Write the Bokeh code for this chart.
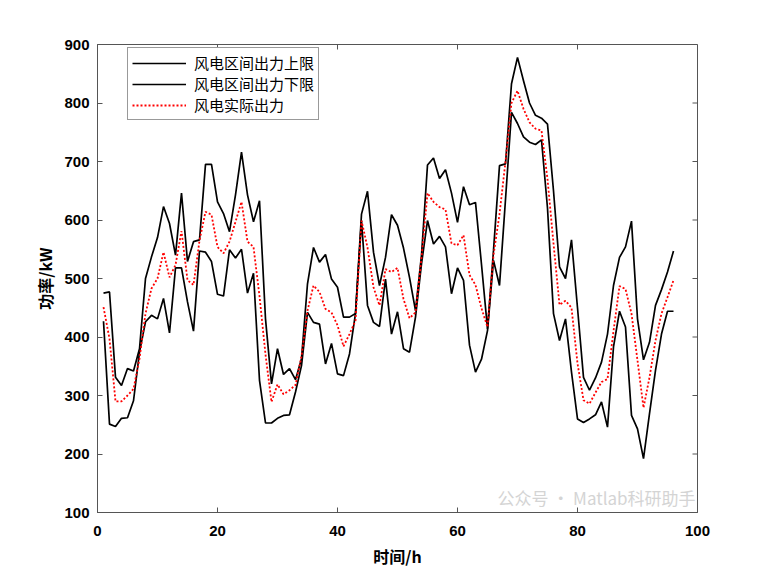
from bokeh.plotting import figure
from bokeh.models import (ColumnDataSource, Range1d, FixedTicker,
                          Legend, LegendItem, Label)
from bokeh.embed import file_html
from bokeh.resources import INLINE

# ---- data ----
hours = list(range(1, 97))

upper = [475, 477, 331, 317, 346, 342, 380, 500, 537, 570,
         623, 594, 540, 646, 529, 563, 566, 695, 695, 631,
         611, 580, 643, 716, 643, 597, 633, 431, 320, 380,
         336, 346, 327, 363, 491, 553, 528, 541, 499, 485,
         434, 434, 440, 610, 649, 545, 488, 536, 609, 591,
         552, 502, 445, 540, 694, 706, 671, 686, 646, 596,
         657, 626, 630, 524, 414, 548, 693, 696, 833, 878,
         838, 800, 779, 774, 764, 650, 520, 500, 566, 450,
         331, 309, 330, 357, 405, 488, 536, 554, 598, 431,
         361, 391, 454, 481, 511, 547]

lower = [427, 251, 247, 261, 262, 291, 374, 426, 437, 431,
         466, 407, 518, 518, 460, 410, 547, 545, 529, 473,
         470, 549, 535, 550, 475, 509, 326, 253, 253, 261,
         266, 267, 306, 351, 442, 425, 422, 354, 389, 337,
         334, 371, 440, 599, 454, 425, 418, 499, 405, 443,
         380, 374, 434, 525, 599, 559, 572, 554, 474, 518,
         497, 386, 340, 362, 411, 531, 488, 635, 784, 765,
         742, 733, 729, 737, 620, 440, 394, 431, 340, 260,
         254, 260, 267, 289, 246, 383, 444, 417, 266, 243,
         192, 269, 343, 405, 444, 444]

actual = [451, 397, 290, 290, 300, 311, 363, 440, 483, 500,
          545, 502, 523, 581, 497, 489, 565, 614, 609, 554,
          543, 563, 597, 631, 563, 554, 470, 370, 289, 319,
          302, 309, 318, 367, 445, 488, 477, 448, 442, 420,
          384, 405, 428, 599, 553, 485, 454, 516, 511, 518,
          465, 432, 442, 535, 646, 631, 622, 618, 560, 557,
          574, 506, 489, 449, 417, 540, 610, 700, 800, 821,
          790, 767, 756, 753, 670, 560, 455, 462, 450, 355,
          292, 286, 305, 323, 328, 410, 487, 482, 440, 360,
          279, 331, 394, 440, 468, 497]

series_names = ["风电区间出力上限", "风电区间出力下限", "风电实际出力"]
x_ticks = [0, 20, 40, 60, 80, 100]
y_ticks = [100, 200, 300, 400, 500, 600, 700, 800, 900]

src = ColumnDataSource(dict(x=hours, up=upper, lo=lower, act=actual))

p = figure(width=760, height=572, output_backend="svg", toolbar_location=None,
           x_range=Range1d(x_ticks[0], x_ticks[-1]),
           y_range=Range1d(y_ticks[0], y_ticks[-1]),
           min_border_left=97, min_border_right=63,
           min_border_top=44, min_border_bottom=60)
p.xgrid.visible = False
p.ygrid.visible = False
axis_col = "#555555"
p.outline_line_color = axis_col
p.outline_line_width = 1
p.background_fill_color = "white"
p.border_fill_color = "white"

tick_font = "Liberation Sans"
cjk_font = "Noto Sans CJK SC"

p.xaxis.ticker = FixedTicker(ticks=x_ticks)
p.yaxis.ticker = FixedTicker(ticks=y_ticks)
for ax in (p.xaxis[0], p.yaxis[0]):
    ax.axis_line_color = axis_col
    ax.axis_line_width = 1
    ax.major_tick_line_color = axis_col
    ax.major_tick_in = 5
    ax.major_tick_out = 0
    ax.minor_tick_line_color = None
    ax.major_label_text_font = tick_font
    ax.major_label_text_font_style = "bold"
    ax.major_label_text_font_size = "15px"
    ax.major_label_text_color = "black"
    ax.axis_label_text_font = cjk_font
    ax.axis_label_text_font_style = "bold"
    ax.axis_label_text_font_size = "16px"
    ax.axis_label_text_color = "black"
p.xaxis.major_label_standoff = 13
p.yaxis.major_label_standoff = 8
p.xaxis.axis_label = "时间/h"
p.yaxis.axis_label = "功率/kW"
p.xaxis.axis_label_standoff = 5
p.yaxis.axis_label_standoff = 4

# inward tick marks on the top and right edges of the box
p.ray(x=x_ticks, y=[y_ticks[-1]] * len(x_ticks), length=5, length_units="screen",
      angle=-90, angle_units="deg", line_color=axis_col, line_width=1)
p.ray(x=[x_ticks[-1]] * len(y_ticks), y=y_ticks, length=5, length_units="screen",
      angle=180, angle_units="deg", line_color=axis_col, line_width=1)

r_up = p.line("x", "up", source=src, line_color="black", line_width=1.7)
r_lo = p.line("x", "lo", source=src, line_color="black", line_width=1.7)
r_act = p.line("x", "act", source=src, line_color="#ff0000", line_width=1.8,
               line_dash="2 2")

legend = Legend(items=[LegendItem(label=series_names[0], renderers=[r_up]),
                       LegendItem(label=series_names[1], renderers=[r_lo]),
                       LegendItem(label=series_names[2], renderers=[r_act])],
                location=(30, 392))
legend.label_text_font = cjk_font
legend.label_text_font_size = "15px"
legend.label_text_color = "black"
legend.glyph_width = 54
legend.glyph_height = 20
legend.label_height = 20
legend.label_standoff = 8
legend.spacing = 0
legend.padding = 4
legend.margin = 0
legend.border_line_color = "#333333"
legend.border_line_width = 1
legend.background_fill_color = "white"
legend.background_fill_alpha = 1
p.add_layout(legend)

# faint watermark (kept inside the plot area, bottom right)
wm = Label(x=400, y=3, x_units="screen", y_units="screen",
           text="公众号 · Matlab科研助手", text_font=cjk_font,
           text_font_size="17px", text_color="#d4d4d4", text_baseline="bottom")
p.add_layout(wm)

open("out.html", "w").write(file_html(p, INLINE))
